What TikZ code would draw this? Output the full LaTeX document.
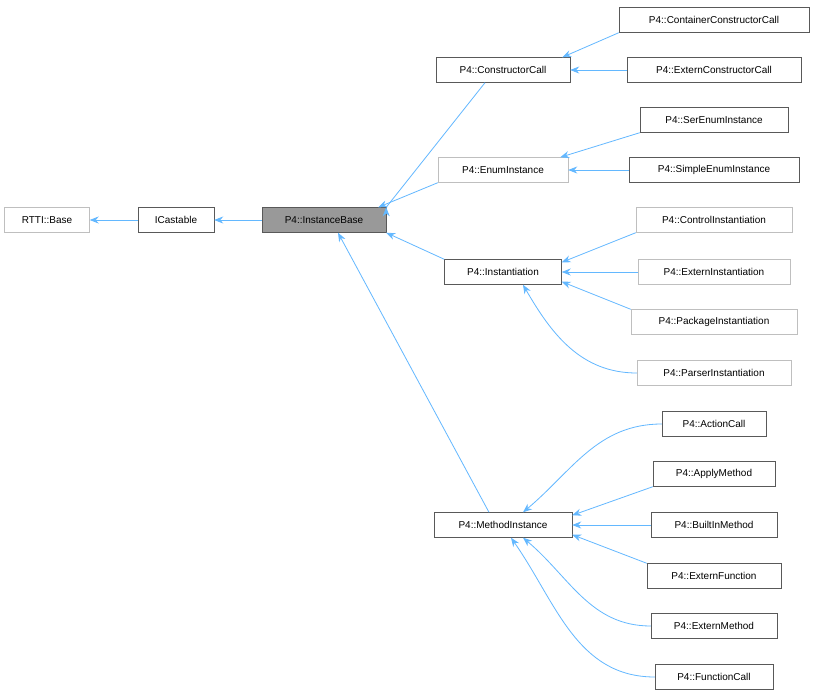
\documentclass[tikz,border=0pt]{standalone}
\usepackage{fontspec}
\setmainfont{Liberation Sans}
\usetikzlibrary{arrows.meta}
\definecolor{edgeblue}{HTML}{63B8FF}
\tikzset{
  cls/.style={draw=black!65, fill=white, minimum height=25pt, inner xsep=5pt, font=\fontsize{10}{12}\selectfont},
  ext/.style={cls, draw=black!25},
  inh/.style={draw=edgeblue, thick, -{Stealth[length=9pt,width=7pt]}}
}
\begin{document}
\begin{tikzpicture}[x=1pt, y=-1pt]
\useasboundingbox[fill=white] (0,0) rectangle (814,696);

\node[ext, minimum width=85pt] (rtti) at (47,220) {RTTI::Base};
\node[cls, minimum width=76pt] (icast) at (176,220) {ICastable};
\node[cls, minimum width=124pt, fill=black!40] (ibase) at (324,220) {P4::InstanceBase};

\node[cls, minimum width=134pt] (ccall) at (503,70) {P4::ConstructorCall};
\node[cls, minimum width=190pt] (cccall) at (714,20) {P4::ContainerConstructorCall};
\node[cls, minimum width=174pt] (eccall) at (714,70) {P4::ExternConstructorCall};

\node[ext, minimum width=130pt] (enum) at (503,170) {P4::EnumInstance};
\node[cls, minimum width=148pt] (serenum) at (714,120) {P4::SerEnumInstance};
\node[cls, minimum width=170pt] (simenum) at (714,170) {P4::SimpleEnumInstance};

\node[cls, minimum width=117pt] (inst) at (503,272) {P4::Instantiation};
\node[ext, minimum width=156pt] (ctrlinst) at (714,220) {P4::ControlInstantiation};
\node[ext, minimum width=152pt] (extinst) at (714,272) {P4::ExternInstantiation};
\node[ext, minimum width=166pt] (pkginst) at (714,322) {P4::PackageInstantiation};
\node[ext, minimum width=154pt] (prsinst) at (714,373) {P4::ParserInstantiation};

\node[cls, minimum width=138pt] (minst) at (503,525) {P4::MethodInstance};
\node[cls, minimum width=104pt] (action) at (714,424) {P4::ActionCall};
\node[cls, minimum width=122pt] (apply) at (714,474) {P4::ApplyMethod};
\node[cls, minimum width=126pt] (builtin) at (714,525) {P4::BuiltInMethod};
\node[cls, minimum width=134pt] (extfun) at (714,576) {P4::ExternFunction};
\node[cls, minimum width=126pt] (extmeth) at (714,626) {P4::ExternMethod};
\node[cls, minimum width=118pt] (fcall) at (714,677) {P4::FunctionCall};

% base chain
\draw[inh] (icast) -- (rtti);
\draw[inh] (ibase) -- (icast);
\draw[inh] (ccall.south) ++(-18,0) coordinate (c1) (c1) -- (ibase.north east) ++(0,0);
\draw[inh] (enum.south west) -- ([xshift=-8pt]ibase.north east);
\draw[inh] (inst.north west) -- (ibase.south east);
\draw[inh] ([xshift=-14pt]minst.north) -- ([xshift=14pt]ibase.south);

% constructor calls
\draw[inh] (cccall.south west) -- ([xshift=-8pt]ccall.north east);
\draw[inh] (eccall) -- (ccall);

% enums
\draw[inh] (serenum.south west) -- ([xshift=-8pt]enum.north east);
\draw[inh] (simenum) -- (enum);

% instantiations
\draw[inh] (ctrlinst.south west) -- ([yshift=-3pt]inst.north east);
\draw[inh] (extinst) -- (inst);
\draw[inh] (pkginst.north west) -- ([yshift=3pt]inst.south east);
\draw[inh] (prsinst.west) to[out=180, in=-60] ([xshift=20pt]inst.south);

% method instances
\draw[inh] (action.west) to[out=180, in=40] ([xshift=20pt]minst.north);
\draw[inh] (apply.south west) -- ([yshift=-3pt]minst.north east);
\draw[inh] (builtin) -- (minst);
\draw[inh] (extfun.north west) -- ([yshift=3pt]minst.south east);
\draw[inh] (extmeth.west) to[out=180, in=-40] ([xshift=20pt]minst.south);
\draw[inh] (fcall.west) to[out=180, in=-55] ([xshift=8pt]minst.south);
\end{tikzpicture}
\end{document}
